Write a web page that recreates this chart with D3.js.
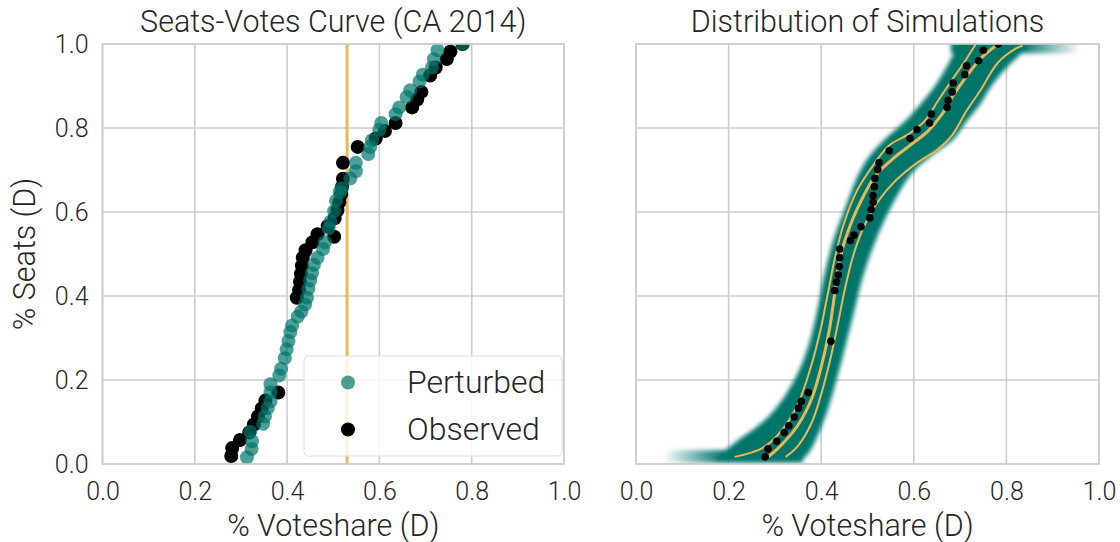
<!DOCTYPE html>
<html>
<head>
<meta charset="utf-8">
<script src="https://cdn.jsdelivr.net/npm/d3@7"></script>
<style>
  html, body { margin: 0; padding: 0; background: #ffffff; }
  svg { display: block; }
  text { font-family: Roboto, "DejaVu Sans", sans-serif; font-weight: 300; fill: #262626; }
</style>
</head>
<body>
<svg id="chart" width="1120" height="542"></svg>
<script>
// ---- data ----
const tickValues = [0.0, 0.2, 0.4, 0.6, 0.8, 1.0];
const titles = ["Seats-Votes Curve (CA 2014)", "Distribution of Simulations"];
const xLabel = "% Voteshare (D)";
const yLabel = "% Seats (D)";
const legendLabels = ["Perturbed", "Observed"];
const meanVoteshare = 0.53;

// observed districts, left panel
const obsVotes = [0.279, 0.281, 0.298, 0.318, 0.328, 0.337, 0.345, 0.353, 0.381,
  0.421, 0.426, 0.428, 0.430, 0.432, 0.434, 0.440, 0.455, 0.466, 0.502,
  0.488, 0.503, 0.509, 0.513, 0.517, 0.519, 0.521, 0.521, 0.553,
  0.592, 0.612, 0.635, 0.671, 0.682, 0.691, 0.710, 0.722, 0.746, 0.754, 0.780];
const obsSeats = [0.019, 0.038, 0.057, 0.075, 0.094, 0.113, 0.132, 0.151, 0.170,
  0.396, 0.415, 0.434, 0.453, 0.472, 0.491, 0.509, 0.528, 0.547, 0.541,
  0.566, 0.585, 0.604, 0.623, 0.642, 0.660, 0.679, 0.717, 0.755,
  0.775, 0.793, 0.812, 0.849, 0.868, 0.886, 0.925, 0.944, 0.964, 0.982, 1.000];

// perturbed districts, left panel
const pertVotes = [0.313, 0.323, 0.324, 0.320, 0.348, 0.352, 0.358, 0.364, 0.364, 0.364,
  0.383, 0.387, 0.395, 0.399, 0.403, 0.407, 0.411, 0.423, 0.431, 0.439,
  0.443, 0.446, 0.450, 0.454, 0.458, 0.466, 0.478, 0.482, 0.490, 0.494,
  0.502, 0.506, 0.514, 0.518, 0.537, 0.549, 0.549, 0.576, 0.580, 0.584,
  0.600, 0.604, 0.635, 0.643, 0.659, 0.667, 0.687, 0.694, 0.714, 0.718, 0.726, 0.781];
const pertSeats = [0.016, 0.036, 0.054, 0.077, 0.096, 0.113, 0.133, 0.149, 0.171, 0.190,
  0.211, 0.227, 0.252, 0.273, 0.293, 0.314, 0.330, 0.351, 0.363, 0.380,
  0.396, 0.417, 0.437, 0.454, 0.474, 0.491, 0.512, 0.528, 0.561, 0.577,
  0.602, 0.627, 0.647, 0.656, 0.680, 0.697, 0.717, 0.738, 0.755, 0.771,
  0.796, 0.812, 0.833, 0.849, 0.874, 0.890, 0.911, 0.927, 0.944, 0.964, 0.985, 1.000];

// simulation envelope, right panel (left / right edge at each seat level)
const bandSeats = [0.005, 0.030, 0.050, 0.116, 0.200, 0.280, 0.363, 0.446, 0.528, 0.610,
  0.693, 0.734, 0.775, 0.816, 0.858, 0.899, 0.940, 0.975, 1.000];
const bandLow = [0.170, 0.190, 0.213, 0.289, 0.342, 0.372, 0.391, 0.406, 0.425, 0.452,
  0.482, 0.505, 0.539, 0.581, 0.615, 0.645, 0.668, 0.685, 0.695];
const bandHigh = [0.355, 0.375, 0.385, 0.410, 0.433, 0.452, 0.471, 0.490, 0.516, 0.550,
  0.596, 0.638, 0.687, 0.714, 0.744, 0.767, 0.797, 0.830, 0.850];

// percentile curves of the simulations
const lowSeats = [0.017, 0.038, 0.075, 0.141, 0.240, 0.322, 0.404, 0.487, 0.569, 0.652,
  0.717, 0.759, 0.783, 0.816, 0.866, 0.915, 0.965, 0.998];
const lowVotes = [0.213, 0.273, 0.311, 0.349, 0.380, 0.399, 0.414, 0.429, 0.448, 0.478,
  0.516, 0.547, 0.585, 0.623, 0.653, 0.683, 0.714, 0.733];
const midSeats = [0.013, 0.042, 0.091, 0.157, 0.240, 0.322, 0.404, 0.487, 0.569, 0.635,
  0.685, 0.726, 0.759, 0.792, 0.833, 0.874, 0.923, 0.965, 1.000];
const midVotes = [0.281, 0.311, 0.349, 0.380, 0.402, 0.418, 0.429, 0.440, 0.463, 0.490,
  0.516, 0.554, 0.592, 0.630, 0.661, 0.683, 0.714, 0.744, 0.782];
const highSeats = [0.017, 0.042, 0.100, 0.174, 0.256, 0.339, 0.421, 0.503, 0.569, 0.627,
  0.676, 0.717, 0.750, 0.783, 0.841, 0.890, 0.956, 0.989, 0.996];
const highVotes = [0.323, 0.349, 0.380, 0.402, 0.421, 0.437, 0.452, 0.471, 0.494, 0.524,
  0.562, 0.607, 0.653, 0.683, 0.714, 0.744, 0.782, 0.820, 0.835];

// observed districts, right panel
const simObsVotes = [0.279, 0.285, 0.304, 0.320, 0.330, 0.342, 0.351, 0.357, 0.372, 0.421,
  0.429, 0.433, 0.437, 0.439, 0.440, 0.440, 0.463, 0.471, 0.486, 0.505,
  0.508, 0.512, 0.512, 0.515, 0.516, 0.522, 0.525, 0.547, 0.592, 0.607,
  0.634, 0.638, 0.672, 0.674, 0.683, 0.685, 0.710, 0.714, 0.740, 0.750, 0.782];
const simObsSeats = [0.017, 0.036, 0.054, 0.075, 0.091, 0.112, 0.133, 0.149, 0.170, 0.292,
  0.413, 0.433, 0.450, 0.470, 0.491, 0.512, 0.532, 0.545, 0.565, 0.586,
  0.606, 0.623, 0.639, 0.660, 0.680, 0.701, 0.717, 0.746, 0.775, 0.796,
  0.812, 0.833, 0.849, 0.866, 0.886, 0.907, 0.927, 0.948, 0.960, 0.985, 1.000];

// ---- style ----
const teal = "rgb(0,118,106)";
const gold = "#e8b858";
const gridColor = "#cccccc";
const tickFont = 25;
const labelFont = 30.5;
const legendFont = 32;

const svg = d3.select("#chart");
const defs = svg.append("defs");

const plotTop = 44, plotBottom = 464;
const panels = [
  { left: 102.5, right: 564 },
  { left: 636, right: 1099 }
];

const y = d3.scaleLinear().domain([0, 1]).range([plotBottom, plotTop]);

panels.forEach((p, i) => {
  p.x = d3.scaleLinear().domain([0, 1]).range([p.left, p.right]);
  p.g = svg.append("g");
  defs.append("clipPath").attr("id", "clip" + i)
    .append("rect").attr("x", p.left).attr("y", plotTop)
    .attr("width", p.right - p.left).attr("height", plotBottom - plotTop);

  // grid
  const grid = p.g.append("g");
  grid.selectAll("line.v").data(tickValues).join("line")
    .attr("x1", d => p.x(d)).attr("x2", d => p.x(d))
    .attr("y1", plotTop).attr("y2", plotBottom)
    .attr("stroke", gridColor).attr("stroke-width", 1.6);
  grid.selectAll("line.h").data(tickValues).join("line")
    .attr("class", "h")
    .attr("y1", d => y(d)).attr("y2", d => y(d))
    .attr("x1", p.left).attr("x2", p.right)
    .attr("stroke", gridColor).attr("stroke-width", 1.6);

  // x axis ticks
  const xAxis = d3.axisBottom(p.x).tickValues(tickValues).tickFormat(d3.format(".1f")).tickSize(0).tickPadding(18);
  const xg = p.g.append("g").attr("transform", `translate(0,${plotBottom})`).call(xAxis);
  xg.select(".domain").remove();
  xg.selectAll("text").attr("font-size", tickFont).attr("fill", "#262626")
    .attr("font-family", "Roboto, sans-serif").attr("font-weight", 300);

  // titles
  p.g.append("text")
    .attr("x", (p.left + p.right) / 2).attr("y", 32)
    .attr("text-anchor", "middle").attr("font-size", labelFont)
    .text(titles[i]);
  p.g.append("text")
    .attr("x", (p.left + p.right) / 2).attr("y", 536)
    .attr("text-anchor", "middle").attr("font-size", labelFont)
    .text(xLabel);

  p.plot = p.g.append("g").attr("clip-path", `url(#clip${i})`);
});

// y axis (left panel only)
{
  const p = panels[0];
  const yAxis = d3.axisLeft(y).tickValues(tickValues).tickFormat(d3.format(".1f")).tickSize(0).tickPadding(14);
  const yg = p.g.append("g").attr("transform", `translate(${p.left},0)`).call(yAxis);
  yg.select(".domain").remove();
  yg.selectAll("text").attr("font-size", tickFont).attr("fill", "#262626")
    .attr("font-family", "Roboto, sans-serif").attr("font-weight", 300);
  p.g.append("text")
    .attr("transform", `translate(35,${(plotTop + plotBottom) / 2}) rotate(-90)`)
    .attr("text-anchor", "middle").attr("font-size", labelFont)
    .text(yLabel);
}

// ---- left panel: seats-votes scatter ----
{
  const p = panels[0];
  p.plot.append("line")
    .attr("x1", p.x(meanVoteshare)).attr("x2", p.x(meanVoteshare))
    .attr("y1", plotTop).attr("y2", plotBottom)
    .attr("stroke", gold).attr("stroke-width", 3);

  p.plot.append("g").selectAll("circle").data(d3.range(obsVotes.length)).join("circle")
    .attr("cx", k => p.x(obsVotes[k])).attr("cy", k => y(obsSeats[k]))
    .attr("r", 7).attr("fill", "#000");

  p.plot.append("g").selectAll("circle").data(d3.range(pertVotes.length)).join("circle")
    .attr("cx", k => p.x(pertVotes[k])).attr("cy", k => y(pertSeats[k]))
    .attr("r", 7).attr("fill", teal).attr("fill-opacity", 0.7);

  // legend
  const lg = p.g.append("g");
  lg.append("rect").attr("x", 304).attr("y", 356).attr("width", 258).attr("height", 100)
    .attr("rx", 4).attr("fill", "#fff").attr("fill-opacity", 0.8)
    .attr("stroke", "#dcdcdc").attr("stroke-width", 1);
  const items = [
    { label: legendLabels[0], fill: teal, op: 0.7, cy: 382.5 },
    { label: legendLabels[1], fill: "#000", op: 1, cy: 429.5 }
  ];
  items.forEach(it => {
    lg.append("circle").attr("cx", 348).attr("cy", it.cy).attr("r", 7)
      .attr("fill", it.fill).attr("fill-opacity", it.op);
    lg.append("text").attr("x", 407).attr("y", it.cy + 10.5)
      .attr("font-size", legendFont).text(it.label);
  });
}

// ---- right panel: simulation distribution ----
{
  const p = panels[1];
  const blur = defs.append("filter").attr("id", "soft")
    .attr("x", "-10%").attr("y", "-10%").attr("width", "120%").attr("height", "120%");
  blur.append("feGaussianBlur").attr("stdDeviation", 2.2);

  const gradL = defs.append("linearGradient").attr("id", "fadeLeft")
    .attr("gradientUnits", "userSpaceOnUse")
    .attr("x1", p.x(0.06)).attr("x2", p.x(0.19)).attr("y1", 0).attr("y2", 0);
  gradL.append("stop").attr("offset", 0).attr("stop-color", teal).attr("stop-opacity", 0);
  gradL.append("stop").attr("offset", 0.55).attr("stop-color", teal).attr("stop-opacity", 0.55);
  gradL.append("stop").attr("offset", 1).attr("stop-color", teal).attr("stop-opacity", 1);

  const gradR = defs.append("linearGradient").attr("id", "fadeRight")
    .attr("gradientUnits", "userSpaceOnUse")
    .attr("x1", p.x(0.83)).attr("x2", p.x(0.96)).attr("y1", 0).attr("y2", 0);
  gradR.append("stop").attr("offset", 0).attr("stop-color", teal).attr("stop-opacity", 1);
  gradR.append("stop").attr("offset", 0.5).attr("stop-color", teal).attr("stop-opacity", 0.5);
  gradR.append("stop").attr("offset", 1).attr("stop-color", teal).attr("stop-opacity", 0);

  const band = p.plot.append("g").attr("filter", "url(#soft)");
  const area = d3.area()
    .y(k => y(bandSeats[k]))
    .x0(k => p.x(bandLow[k]))
    .x1(k => p.x(bandHigh[k]))
    .curve(d3.curveCatmullRom);
  band.append("path").attr("d", area(d3.range(bandSeats.length))).attr("fill", teal);

  // flat stretches at zero and full seat share
  band.append("rect")
    .attr("x", p.x(0.06)).attr("width", p.x(0.36) - p.x(0.06))
    .attr("y", y(0.033)).attr("height", y(0.003) - y(0.033))
    .attr("fill", "url(#fadeLeft)");
  band.append("rect")
    .attr("x", p.x(0.68)).attr("width", p.x(0.96) - p.x(0.68))
    .attr("y", y(1.02)).attr("height", y(0.978) - y(1.02))
    .attr("fill", "url(#fadeRight)");

  const line = d3.line().curve(d3.curveCatmullRom);
  const curves = [
    { v: lowVotes, s: lowSeats, w: 2 },
    { v: highVotes, s: highSeats, w: 2 },
    { v: midVotes, s: midSeats, w: 3 }
  ];
  curves.forEach(c => {
    p.plot.append("path")
      .attr("d", line(c.v.map((v, k) => [p.x(v), y(c.s[k])])))
      .attr("fill", "none").attr("stroke", gold).attr("stroke-width", c.w);
  });

  p.plot.append("g").selectAll("circle").data(d3.range(simObsVotes.length)).join("circle")
    .attr("cx", k => p.x(simObsVotes[k])).attr("cy", k => y(simObsSeats[k]))
    .attr("r", 3.8).attr("fill", "#000");
}

// spines drawn last so they sit above the marks
panels.forEach(p => {
  p.g.append("rect")
    .attr("x", p.left).attr("y", plotTop)
    .attr("width", p.right - p.left).attr("height", plotBottom - plotTop)
    .attr("fill", "none").attr("stroke", gridColor).attr("stroke-width", 1.6);
});
</script>
</body>
</html>
